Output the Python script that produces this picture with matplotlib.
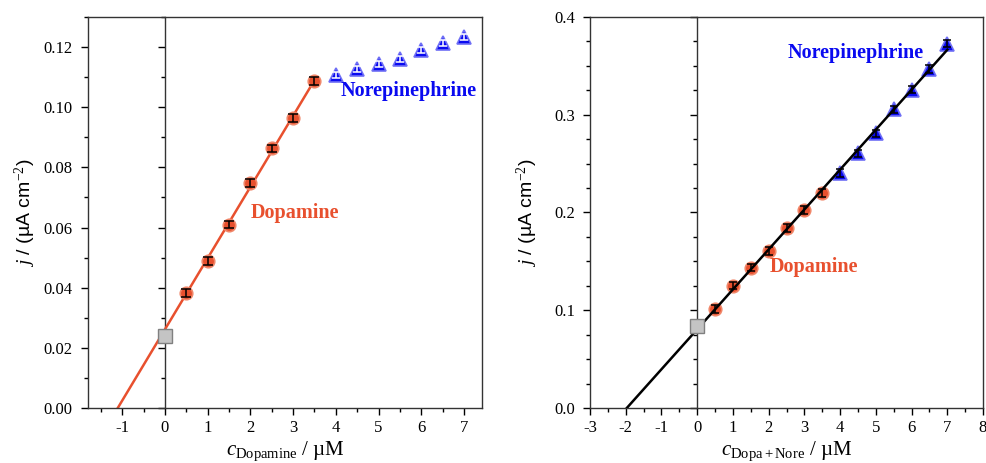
import numpy as np
import matplotlib
matplotlib.use("Agg")
import matplotlib.pyplot as plt
from matplotlib.ticker import MultipleLocator

# ---- data ----
dopa_x = [0.5, 1.0, 1.5, 2.0, 2.5, 3.0, 3.5]
nore_x = [4.0, 4.5, 5.0, 5.5, 6.0, 6.5, 7.0]
blank_x = [0.0]

left_dopa_y = [0.0382, 0.0490, 0.0610, 0.0749, 0.0863, 0.0963, 0.1087]
left_dopa_err = [0.0013] * 7
left_nore_y = [0.1106, 0.1126, 0.1145, 0.1161, 0.1189, 0.1214, 0.1233]
left_nore_err = [0.0010] * 7
left_blank_y = [0.0238]

right_dopa_y = [0.1014, 0.1253, 0.1437, 0.1610, 0.1845, 0.2026, 0.2203]
right_dopa_err = [0.004] * 7
right_nore_y = [0.2407, 0.2604, 0.2809, 0.3054, 0.3258, 0.3472, 0.3728]
right_nore_err = [0.004] * 7
right_blank_y = [0.0834]

RED = "#E8502E"
RED_EDGE = "#F0876A"
BLUE = "#0A0AF0"
BLUE_EDGE = "#6F6FF5"

plt.rcParams["font.family"] = ["Liberation Serif", "DejaVu Serif"]
plt.rcParams["mathtext.fontset"] = "custom"
plt.rcParams["mathtext.rm"] = "Liberation Serif"
plt.rcParams["mathtext.it"] = "Liberation Serif:italic"

fig = plt.figure(figsize=(9.87, 4.63), dpi=100)

def setup_axes(rect, xlim, ylim, xmaj, xmin, ymaj, ymin, yfmt):
    ax = fig.add_axes(rect)
    ax.set_xlim(*xlim)
    ax.set_ylim(*ylim)
    ax.xaxis.set_major_locator(MultipleLocator(xmaj))
    ax.xaxis.set_minor_locator(MultipleLocator(xmin))
    ax.yaxis.set_major_locator(MultipleLocator(ymaj))
    ax.yaxis.set_minor_locator(MultipleLocator(ymin))
    ax.yaxis.set_major_formatter(plt.FormatStrFormatter(yfmt))
    ax.tick_params(which="major", direction="out", length=5, width=1.0, labelsize=12)
    ax.tick_params(axis="y", which="major", pad=6)
    ax.tick_params(which="minor", direction="out", length=3, width=1.0)
    for s in ax.spines.values():
        s.set_linewidth(1.0)
        s.set_color("#333333")
    # zero line axis with ticks
    az = fig.add_axes(rect)
    az.set_xlim(*xlim)
    az.set_ylim(*ylim)
    az.patch.set_visible(False)
    for k in ("top", "right", "bottom"):
        az.spines[k].set_visible(False)
    az.spines["left"].set_position(("data", 0))
    az.spines["left"].set_linewidth(1.0)
    az.spines["left"].set_color("#333333")
    az.yaxis.set_major_locator(MultipleLocator(ymaj))
    az.yaxis.set_minor_locator(MultipleLocator(ymin))
    az.tick_params(axis="y", which="major", direction="out", length=5, width=1.0, labelleft=False)
    az.tick_params(axis="y", which="minor", direction="out", length=3, width=1.0)
    az.set_xticks([])
    az.set_zorder(0)
    ax.set_zorder(1)
    ax.patch.set_visible(False)
    return ax

def points(ax, x, y, err, marker, ms, fc, ec, ecol, cap, z):
    ax.plot(x, y, marker, ms=ms, mfc=fc, mec=ec, mew=1.2, ls="none", zorder=z)
    ax.errorbar(x, y, yerr=err, fmt="none", ecolor=ecol, elinewidth=1.1,
                capsize=cap, capthick=1.1, zorder=z + 0.5)

# ---------- left panel ----------
ax1 = setup_axes([0.0892, 0.1188, 0.3991, 0.8445], (-1.8, 7.42), (0, 0.13),
                 1, 0.5, 0.02, 0.01, "%.2f")
k1, b1 = np.polyfit(dopa_x, left_dopa_y, 1)
xs1 = np.array([-b1 / k1, dopa_x[-1]])
ax1.plot(xs1, k1 * xs1 + b1, color=RED, lw=1.8, zorder=2)
points(ax1, dopa_x, left_dopa_y, left_dopa_err, "o", 9, RED, RED_EDGE, "black", 3.5, 3)
points(ax1, nore_x, left_nore_y, left_nore_err, "^", 10, BLUE, BLUE_EDGE, "white", 3, 3)
ax1.plot(blank_x, left_blank_y, "s", ms=10.5, mfc="#C4C4C4", mec="#808080",
         mew=1.0, zorder=5, clip_on=False)
ax1.text(2.0, 0.0648, "Dopamine", color=RED, fontsize=14.5, fontweight="bold",
         ha="left", va="center")
ax1.text(4.1, 0.1054, "Norepinephrine", color=BLUE, fontsize=14.5, fontweight="bold",
         ha="left", va="center")
ax1.set_xticks([-1, 0, 1, 2, 3, 4, 5, 6, 7])
ax1.set_xticklabels(["-1", "0", "1", "2", "3", "4", "5", "6", "7"])
ax1.set_xlabel(r"$c_{\mathrm{Dopamine}}$ / µM", fontsize=15, labelpad=3)
ax1.set_ylabel(r"$j$ / (µA cm$^{-2}$)", fontsize=14, family=["Liberation Sans"], labelpad=4)

# ---------- right panel ----------
ax2 = setup_axes([0.5978, 0.1188, 0.3982, 0.8445], (-3, 8), (0, 0.4),
                 1, 0.5, 0.1, 0.025, "%.1f")
all_x = dopa_x + nore_x
all_y = right_dopa_y + right_nore_y
k2, b2 = np.polyfit(all_x, all_y, 1)
xs2 = np.array([-b2 / k2, nore_x[-1]])
ax2.plot(xs2, k2 * xs2 + b2, color="black", lw=1.8, zorder=6)
points(ax2, dopa_x, right_dopa_y, right_dopa_err, "o", 9, RED, RED_EDGE, "black", 3, 3)
points(ax2, nore_x, right_nore_y, right_nore_err, "^", 10, BLUE, BLUE_EDGE, "black", 3, 3)
ax2.plot(blank_x, right_blank_y, "s", ms=10.5, mfc="#C4C4C4", mec="#808080",
         mew=1.0, zorder=7, clip_on=False)
ax2.text(2.02, 0.144, "Dopamine", color=RED, fontsize=14.5, fontweight="bold",
         ha="left", va="center")
ax2.text(2.52, 0.363, "Norepinephrine", color=BLUE, fontsize=14.5, fontweight="bold",
         ha="left", va="center")
ax2.set_xticks(list(range(-3, 9)))
ax2.set_xticklabels([str(v) for v in range(-3, 9)])
ax2.set_xlabel(r"$c_{\mathrm{Dopa+Nore}}$ / µM", fontsize=15, labelpad=3)
ax2.set_ylabel(r"$j$ / (µA cm$^{-2}$)", fontsize=14, family=["Liberation Sans"], labelpad=10)

fig.savefig("out.png", dpi=100)
